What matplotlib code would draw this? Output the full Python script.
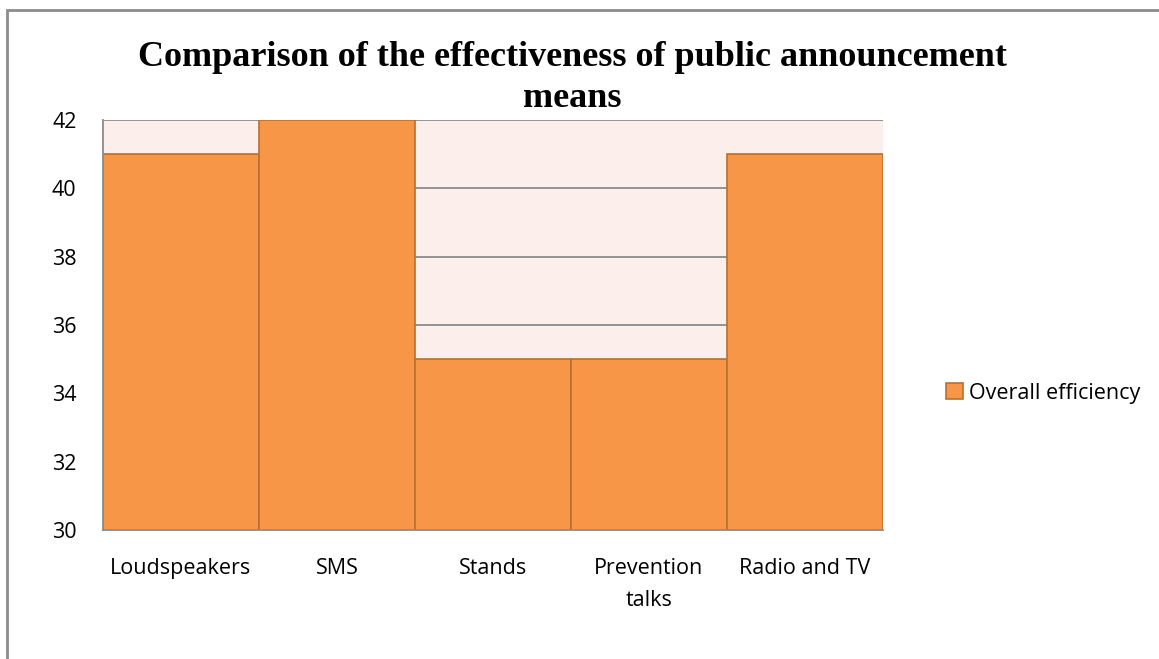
import matplotlib.pyplot as plt
from matplotlib.patches import Rectangle

# --- datos del grafico ---
categorias = ["Loudspeakers", "SMS", "Stands", "Prevention\ntalks", "Radio and TV"]
eficiencia = [41, 42, 35, 35, 41]
ticks_y = [30, 32, 34, 36, 38, 40, 42]

COLOR_BARRA = "#F79646"
COLOR_BORDE = "#B8702F"
COLOR_FONDO = "#FCEEEA"

fig = plt.figure(figsize=(11.59, 6.59), dpi=100)
ax = fig.add_axes([103 / 1159, 1 - 530 / 659, 780 / 1159, 410 / 659])

# marco exterior del grafico
fig.patches.append(Rectangle((7 / 1159, -0.05), 1.2, 1 - 10 / 659 + 0.05,
                             transform=fig.transFigure, fill=False,
                             edgecolor="#8C8C8C", linewidth=2))

ax.set_facecolor(COLOR_FONDO)
ax.set_axisbelow(True)
ax.yaxis.grid(True, color="#8C8C8C", linewidth=1.3)

x = range(len(categorias))
ax.bar(x, eficiencia, width=1.0, color=COLOR_BARRA, edgecolor=COLOR_BORDE,
       linewidth=1.2, label="Overall efficiency", bottom=0)

ax.set_ylim(30, 42)
ax.set_xlim(-0.5, len(categorias) - 0.5)
ax.set_yticks(ticks_y)
ax.set_xticks(list(x))
ax.set_xticklabels(categorias)

fuente = "Open Sans"
for lbl in ax.get_xticklabels() + ax.get_yticklabels():
    lbl.set_fontfamily(fuente)
    lbl.set_fontsize(15.5)
for lbl in ax.get_xticklabels():
    lbl.set_linespacing(1.7)
ax.tick_params(length=0)
ax.tick_params(axis="x", pad=20)
ax.tick_params(axis="y", pad=19)

for lado in ["top", "right"]:
    ax.spines[lado].set_visible(False)
ax.spines["left"].set_color("#8C8C8C")
ax.spines["bottom"].set_color("#8C8C8C")
ax.spines["left"].set_linewidth(1.3)
ax.spines["bottom"].set_linewidth(1.3)

fig.text(572 / 1159, 1 - 78 / 659,
         "Comparison of the effectiveness of public announcement\nmeans",
         ha="center", va="center", fontfamily="Liberation Serif",
         fontweight="bold", fontsize=26, linespacing=1.35)

leg = fig.legend(loc="center left", bbox_to_anchor=(927 / 1159, 1 - 393 / 659),
                 frameon=False, prop={"family": fuente, "size": 15.5},
                 handlelength=0.75, handleheight=0.75, handletextpad=0.3)

plt.savefig("out.png", dpi=100)
